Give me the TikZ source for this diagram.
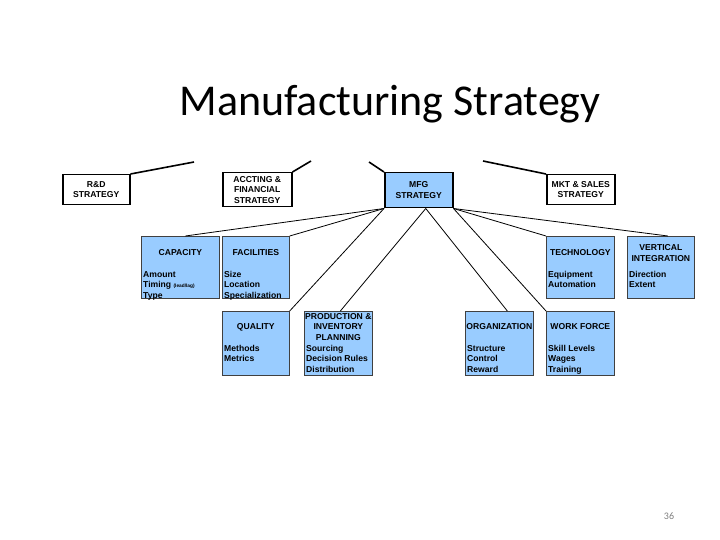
\documentclass[tikz,border=0pt]{standalone}
\usepackage{fontspec}
\setmainfont{Liberation Sans}
\newfontfamily\titlefont{Carlito}
\usetikzlibrary{calc}
\definecolor{boxblue}{HTML}{99CCFF}
\definecolor{pagegray}{HTML}{808080}
\newcommand{\bxfont}{\fontsize{8.6}{10.5}\selectfont\bfseries}
\begin{document}
\begin{tikzpicture}[x=1pt,y=-1pt,
  topbox/.style={draw=black, line width=1.5pt, fill=white, anchor=north west, inner sep=0pt},
  bluebox/.style={draw=black!75, line width=0.7pt, fill=boxblue, anchor=north west, inner sep=0pt},
  mfgbox/.style={draw=black, line width=1.5pt, fill=boxblue, anchor=north west, inner sep=0pt},
  hdr/.style={font=\bxfont, align=center, inner sep=0pt},
  itm/.style={font=\bxfont, align=left, anchor=north west, inner sep=0pt},
  link/.style={draw=black, line width=0.8pt},
  stub/.style={draw=black, line width=1.6pt}]
\useasboundingbox (0,0) rectangle (720,540);
\fill[white] (0,0) rectangle (720,540);

% title and page number
\node[font=\titlefont\fontsize{44}{50}\selectfont, anchor=base, inner sep=0pt] (title) at (390,116) {Manufacturing Strategy};
\node[font=\titlefont\fontsize{10}{12}\selectfont, text=pagegray, anchor=base, inner sep=0pt] (page) at (669,519) {36};

% free ends of the cut-off connectors
\coordinate (s1) at (194,162);
\coordinate (s2) at (311,161);
\coordinate (s3) at (369,162);
\coordinate (s4) at (483,161);

% boxes
\node[topbox, minimum width=67pt, minimum height=30pt] (rd) at (62,174) {};
\node[topbox, minimum width=69pt, minimum height=34pt] (acc) at (222,172) {};
\node[mfgbox, minimum width=68pt, minimum height=35pt] (mfg) at (384,172) {};
\node[topbox, minimum width=68pt, minimum height=30pt] (mkt) at (546,174) {};

\node[bluebox, minimum width=78pt, minimum height=62pt] (cap) at (141,236) {};
\node[bluebox, minimum width=67pt, minimum height=62pt] (fac) at (222,236) {};
\node[bluebox, minimum width=68pt, minimum height=62pt] (tech) at (546,236) {};
\node[bluebox, minimum width=67pt, minimum height=62pt] (vert) at (627,236) {};
\node[bluebox, minimum width=67pt, minimum height=64pt] (qual) at (222,311) {};
\node[bluebox, minimum width=68pt, minimum height=64pt] (prod) at (304,311) {};
\node[bluebox, minimum width=68pt, minimum height=64pt] (org) at (465,311) {};
\node[bluebox, minimum width=68pt, minimum height=64pt] (wf) at (546,311) {};

% connectors
\draw[stub] (rd.north east) -- (s1);
\draw[stub] (acc.north east) -- (s2);
\draw[stub] (mfg.north west) -- (s3);
\draw[stub] (mkt.north west) -- (s4);

\draw[link] (mfg.south west) -- ($(cap.north)+(5,0)$);
\draw[link] (mfg.south west) -- (fac.north east);
\draw[link] (mfg.south west) -- (qual.north east);
\draw[link] ($(mfg.south)+(7,0)$) -- ($(prod.north)+(2,0)$);
\draw[link] ($(mfg.south)+(7,0)$) -- ($(org.north)+(8,0)$);
\draw[link] (mfg.south east) -- (tech.north west);
\draw[link] (mfg.south east) -- ($(vert.north)+(7,0)$);
\draw[link] (mfg.south east) -- (wf.north west);

% box texts
\node[hdr] (rdt) at (rd.center) {R\&D\\STRATEGY};
\node[hdr] (acct) at (acc.center) {ACCTING \&\\FINANCIAL\\STRATEGY};
\node[hdr] (mfgt) at (mfg.center) {MFG\\STRATEGY};
\node[hdr] (mktt) at (mkt.center) {MKT \& SALES\\STRATEGY};

\node[hdr] (caph) at ($(cap.north)+(0,17)$) {CAPACITY};
\node[itm] (capi) at ($(cap.north west)+(2,271-236)$) {Amount\\Timing {\fontsize{4.8}{5}\selectfont(lead/lag)}\\Type};
\node[hdr] (fach) at ($(fac.north)+(0,17)$) {FACILITIES};
\node[itm] (faci) at ($(fac.north west)+(2,271-236)$) {Size\\Location\\Specialization};
\node[hdr] (techh) at ($(tech.north)+(0,17)$) {TECHNOLOGY};
\node[itm] (techi) at ($(tech.north west)+(2,271-236)$) {Equipment\\Automation};
\node[hdr] (verth) at ($(vert.north)+(0,17)$) {VERTICAL\\INTEGRATION};
\node[itm] (verti) at ($(vert.north west)+(2,271-236)$) {Direction\\Extent};

\node[hdr] (qualh) at ($(qual.north)+(0,16)$) {QUALITY};
\node[itm] (quali) at ($(qual.north west)+(2,345-311)$) {Methods\\Metrics};
\node[hdr] (prodh) at ($(prod.north)+(0,16)$) {PRODUCTION \&\\INVENTORY\\PLANNING};
\node[itm] (prodi) at ($(prod.north west)+(2,345-311)$) {Sourcing\\Decision Rules\\Distribution};
\node[hdr] (orgh) at ($(org.north)+(0,16)$) {ORGANIZATION};
\node[itm] (orgi) at ($(org.north west)+(2,345-311)$) {Structure\\Control\\Reward};
\node[hdr] (wfh) at ($(wf.north)+(0,16)$) {WORK FORCE};
\node[itm] (wfi) at ($(wf.north west)+(2,345-311)$) {Skill Levels\\Wages\\Training};
\end{tikzpicture}
\end{document}
